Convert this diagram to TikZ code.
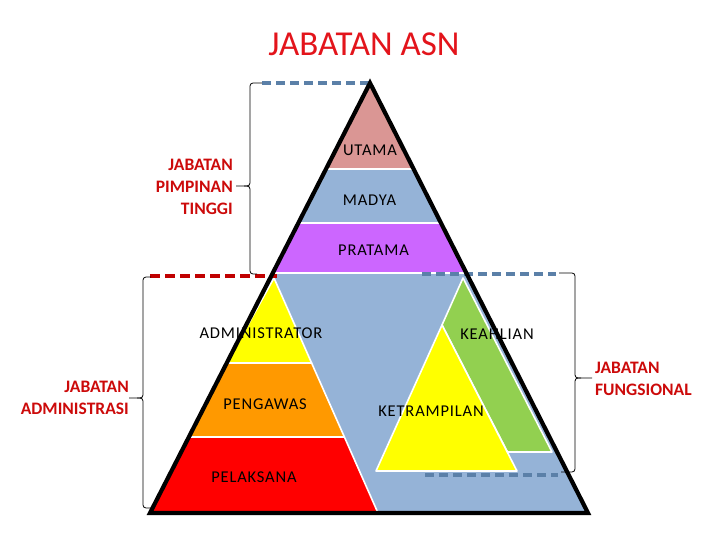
\documentclass[tikz,border=0pt]{standalone}
\usepackage{fontspec}
\setmainfont{Carlito}
\newfontfamily\lblfont[LetterSpace=5]{Carlito}
\definecolor{cutama}{HTML}{DA9694}
\definecolor{cblue}{HTML}{95B3D7}
\definecolor{cpratama}{HTML}{CC66FF}
\definecolor{cyel}{HTML}{FFFF00}
\definecolor{corange}{HTML}{FF9900}
\definecolor{cred}{HTML}{FF0000}
\definecolor{cgreen}{HTML}{92D050}
\definecolor{ctitle}{HTML}{E3141B}
\definecolor{clabel}{HTML}{CC0A0A}
\definecolor{cdashblue}{HTML}{5B80A8}
\definecolor{cdashred}{HTML}{C00000}
\tikzset{
  band/.style={draw=white, line width=1.6pt, line join=round},
  lvl/.style={font=\lblfont\fontsize{16.5}{18}\selectfont, text=black, inner sep=0pt},
  grp/.style={font=\bfseries\fontsize{17.5}{22}\selectfont, text=clabel, inner sep=0pt},
  bracket/.style={draw=black, line width=0.8pt, rounded corners=3pt},
  bluedash/.style={draw=cdashblue, line width=3.2pt, dash pattern=on 9pt off 5pt},
  reddash/.style={draw=cdashred, line width=3.4pt, dash pattern=on 10pt off 5pt},
}
\begin{document}
\begin{tikzpicture}[x=1pt,y=-1pt]
\useasboundingbox (0,0) rectangle (720,540);
% main triangle corners
\coordinate (A) at (370,83);
\coordinate (BL) at (150,513);
\coordinate (BR) at (588,513);
% upper bands
\path[band, fill=cutama] (A) -- (413.6,169) -- (326,169) -- cycle;
\path[band, fill=cblue] (326,169) -- (413.6,169) -- (441,223) -- (298.4,223) -- cycle;
\path[band, fill=cpratama] (298.4,223) -- (441,223) -- (466.3,273) -- (272.8,273) -- cycle;
\path[band, fill=cblue] (272.8,273) -- (466.3,273) -- (BR) -- (BL) -- cycle;
% administrasi triangle
\path[band, fill=cyel] (274,278) -- (311.6,363) -- (226.7,363) -- cycle;
\path[band, fill=corange] (226.7,363) -- (311.6,363) -- (344.4,437) -- (188.9,437) -- cycle;
\path[band, fill=cred] (188.9,437) -- (344.4,437) -- (378,513) -- (BL) -- cycle;
% fungsional shapes
\path[band, fill=cgreen] (463,278) -- (552,452) -- (507.5,452) -- (442,325) -- cycle;
\path[band, fill=cyel] (442,325) -- (517,471) -- (376,471) -- cycle;
% dashed guide lines
\coordinate (d1a) at (262,83);
\coordinate (d2a) at (150,276);
\coordinate (d2b) at (277,276);
\coordinate (d3a) at (422,274);
\coordinate (d3b) at (556,274);
\coordinate (d4a) at (425,475);
\coordinate (d4b) at (558,475);
\draw[bluedash] (d1a) -- (A);
\draw[reddash] (d2a) -- (d2b);
\draw[bluedash] (d3a) -- (d3b);
\draw[bluedash] (d4a) -- (d4b);
% outline
\draw[line width=4.2pt, line join=miter] (A) -- (BL) -- (BR) -- cycle;
% level labels
\node[lvl] (utama) at (370,150) {UTAMA};
\node[lvl] (madya) at (369.5,200) {MADYA};
\node[lvl] (pratama) at (373.5,250) {PRATAMA};
\node[lvl] (admin) at (261,333) {ADMINISTRATOR};
\node[lvl] (pengawas) at (265,404) {PENGAWAS};
\node[lvl] (pelaksana) at (254,477) {PELAKSANA};
\node[lvl] (keahlian) at (497,334) {KEAHLIAN};
\node[lvl] (ketrampilan) at (431,411) {KETRAMPILAN};
% title
\node[font=\fontsize{35}{40}\selectfont, text=ctitle, inner sep=0pt] (title) at (364,44) {JABATAN ASN};
% group labels
\node[grp, align=right, anchor=east] (jpt) at (233,187) {JABATAN\\PIMPINAN\\TINGGI};
\node[grp, align=right, anchor=east] (ja) at (129,398) {JABATAN\\ADMINISTRASI};
\node[grp, align=left, anchor=west] (jf) at (595,379) {JABATAN\\FUNGSIONAL};
% braces
\draw[bracket] (262,83) -- (250,83) -- (250,186) -- (236,186);
\draw[bracket] (244,186) -- (250,186) -- (250,274) -- (257,274);
\draw[bracket] (151,277) -- (143,277) -- (143,398) -- (129,398);
\draw[bracket] (137,398) -- (143,398) -- (143,508) -- (151,508);
\draw[bracket] (559,273) -- (575,273) -- (575,378) -- (592,378);
\draw[bracket] (581,378) -- (575,378) -- (575,472) -- (561,472);
\end{tikzpicture}
\end{document}
